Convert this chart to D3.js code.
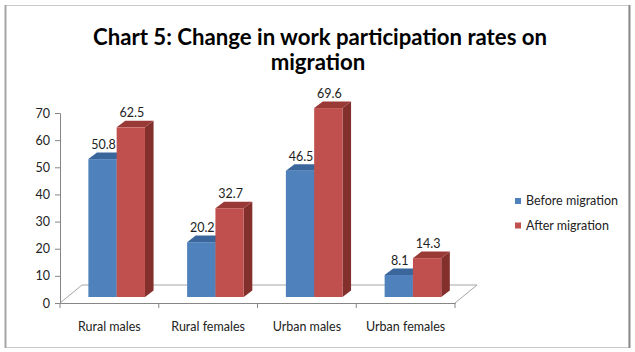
<!DOCTYPE html>
<html>
<head>
<meta charset="utf-8">
<script src="https://cdn.jsdelivr.net/npm/d3@7"></script>
<style>
  html, body { margin: 0; padding: 0; background: #fff; }
  svg { display: block; }
  text { font-family: Lato, "Open Sans", sans-serif; }
</style>
</head>
<body>
<svg id="chart" width="635" height="352"></svg>
<script>
const titleLines = ["Chart 5: Change in work participation rates on", "migration"];
const categories = ["Rural males", "Rural females", "Urban males", "Urban females"];
const seriesNames = ["Before migration", "After migration"];
const beforeValues = [50.8, 20.2, 46.5, 8.1];
const afterValues = [62.5, 32.7, 69.6, 14.3];
const yTicks = [0, 10, 20, 30, 40, 50, 60, 70];

const colors = {
  "Before migration": { front: "#4f81bd", top: "#3a669c", side: "#345c8c" },
  "After migration":  { front: "#c0504d", top: "#9a3a37", side: "#832f2c" }
};

const svg = d3.select("#chart");

// frame
svg.append("rect").attr("x", 5.5).attr("y", 5.5).attr("width", 623.5).attr("height", 342)
  .attr("fill", "#fff").attr("stroke", "#c9c9c9").attr("stroke-width", 1);
svg.append("line").attr("x1", 5.5).attr("x2", 5.5).attr("y1", 5).attr("y2", 348)
  .attr("stroke", "#a6a6a6").attr("stroke-width", 2);
svg.append("line").attr("x1", 629.5).attr("x2", 629.5).attr("y1", 5).attr("y2", 348)
  .attr("stroke", "#8c8c8c").attr("stroke-width", 2);

// title
svg.append("text").attr("x", 320).attr("y", 45).attr("text-anchor", "middle")
  .attr("font-size", 22.2).attr("font-weight", "bold").attr("fill", "#000").text(titleLines[0]);
svg.append("text").attr("x", 318).attr("y", 70).attr("text-anchor", "middle")
  .attr("font-size", 22.2).attr("font-weight", "bold").attr("fill", "#000").text(titleLines[1]);

// scales
const x0 = d3.scaleBand().domain(categories).range([60, 455]).paddingInner(0).paddingOuter(0);
const x1 = d3.scaleBand().domain(seriesNames).range([0, x0.bandwidth()]).paddingInner(0).paddingOuter(0.745);
const y = d3.scaleLinear().domain([0, 70]).range([303, 113]);

// 3D geometry
const floorDepth = { dx: 22, dy: -18 };
const barPlane = { dx: 7.3, dy: -6 };
const barDepth = { dx: 8.6, dy: -6.6 };

// floor
const fl = x0.range()[0], fr = x0.range()[1], fy = y(0);
svg.append("path")
  .attr("d", `M${fl},${fy} L${fl + floorDepth.dx},${fy + floorDepth.dy} L${fr + floorDepth.dx},${fy + floorDepth.dy} L${fr},${fy}`)
  .attr("fill", "none").attr("stroke", "#a6a6a6").attr("stroke-width", 1);

// y axis
const yAxis = d3.axisLeft(y).tickValues(yTicks).tickSize(5).tickPadding(5);
const gy = svg.append("g").attr("transform", "translate(60,0)").call(yAxis);
gy.select(".domain").attr("stroke", "#868686");
gy.selectAll(".tick line").attr("stroke", "#868686");
gy.selectAll(".tick text").attr("font-size", 12.5).attr("fill", "#222").attr("font-family", "Lato, sans-serif");

// x axis
const xAxis = d3.axisBottom(x0).tickSize(0).tickPadding(19);
const gx = svg.append("g").attr("transform", `translate(0,${fy})`).call(xAxis);
gx.select(".domain").attr("stroke", "#868686");
gx.selectAll(".tick text").attr("font-size", 12.5).attr("fill", "#222").attr("font-family", "Lato, sans-serif");
// boundary ticks
const bounds = categories.map(c => x0(c)).concat([x0.range()[1]]);
gx.selectAll(".bt").data(bounds).enter().append("line")
  .attr("x1", d => d).attr("x2", d => d).attr("y1", 0).attr("y2", 5)
  .attr("stroke", "#868686");

// bars
const data = [];
categories.forEach((c, i) => {
  data.push({ cat: c, series: seriesNames[0], value: beforeValues[i] });
  data.push({ cat: c, series: seriesNames[1], value: afterValues[i] });
});

const bars = svg.append("g");
data.forEach(d => {
  const xl = x0(d.cat) + x1(d.series) + barPlane.dx;
  const xr = xl + x1.bandwidth();
  const yb = y(0) + barPlane.dy;
  const yt = y(d.value) + barPlane.dy;
  const c = colors[d.series];
  const g = bars.append("g");
  g.append("path")
    .attr("d", `M${xr},${yt} L${xr + barDepth.dx},${yt + barDepth.dy} L${xr + barDepth.dx},${yb + barDepth.dy} L${xr},${yb} Z`)
    .attr("fill", c.side);
  g.append("path")
    .attr("d", `M${xl},${yt} L${xl + barDepth.dx},${yt + barDepth.dy} L${xr + barDepth.dx},${yt + barDepth.dy} L${xr},${yt} Z`)
    .attr("fill", c.top);
  g.append("rect").attr("x", xl).attr("y", yt).attr("width", xr - xl).attr("height", yb - yt)
    .attr("fill", c.front);
  g.append("text").attr("x", (xl + xr) / 2 + 1).attr("y", yt + barDepth.dy - 3.5)
    .attr("text-anchor", "middle").attr("font-size", 12.5).attr("fill", "#222")
    .text(d.value.toFixed(1));
});

// legend
const legend = svg.append("g");
seriesNames.forEach((s, i) => {
  const ly = 201 + i * 24.5;
  legend.append("rect").attr("x", 515).attr("y", ly - 3).attr("width", 6).attr("height", 6)
    .attr("fill", colors[s].front);
  legend.append("text").attr("x", 526).attr("y", ly).attr("dy", "0.35em")
    .attr("font-size", 12.5).attr("fill", "#222").text(s);
});
</script>
</body>
</html>
